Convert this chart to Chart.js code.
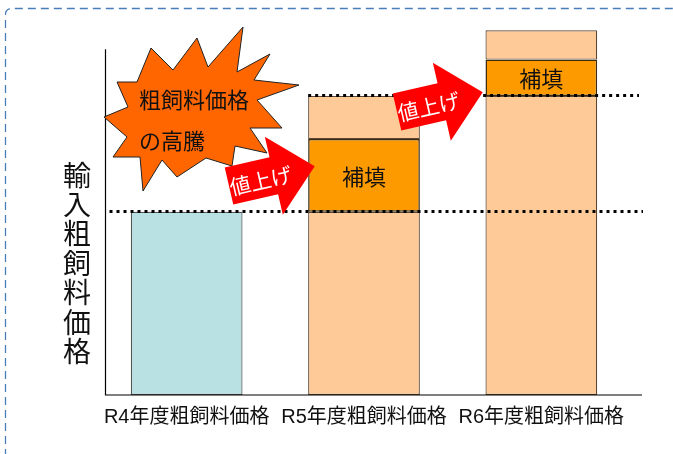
<!DOCTYPE html>
<html>
<head>
<meta charset="utf-8">
<script src="https://cdn.jsdelivr.net/npm/chart.js@4.4.1/dist/chart.umd.min.js"></script>
<style>
html, body { margin: 0; padding: 0; background: #fff; }
</style>
</head>
<body>
<canvas id="chart" width="673" height="454"></canvas>
<script>
// values (arbitrary price units, 100 = top of the axis line)
var categories = ["R4年度粗飼料価格", "R5年度粗飼料価格", "R6年度粗飼料価格"];
var basePrice = [53, 53, 86.5];
var subsidy = [null, 21, 10.5];
var topPart = [null, 12.5, 8.5];
var axisTop = 100;

var yTitle = "輸入粗飼料価格";
var burstLines = ["粗飼料価格", "の高騰"];
var arrowLabel = "値上げ";
var subsidyLabel = "補填";

var JP = "'Noto Sans CJK JP', sans-serif";

// starburst outline, pixels
var burst = [[243,27],[237,72],[270,54],[254,80],[299,85],[257,100],[282,128],[250,128],[267,153],
    [235,146],[232,166],[206,158],[177,177],[162,160],[143,191],[140,157],[113,157],[127,137],
    [104,117],[128,107],[117,82],[137,82],[151,48],[173,70],[197,38],[208,67]];

function drawArrow(ctx, x, y, angle, text) {
    ctx.save();
    ctx.translate(x, y);
    ctx.rotate(angle * Math.PI / 180);
    ctx.beginPath();
    ctx.moveTo(0, -19);
    ctx.lineTo(46, -19);
    ctx.lineTo(46, -40);
    ctx.lineTo(88, 0);
    ctx.lineTo(46, 40);
    ctx.lineTo(46, 19);
    ctx.lineTo(0, 19);
    ctx.closePath();
    ctx.fillStyle = "#ff0000";
    ctx.fill();
    ctx.fillStyle = "#fff";
    ctx.font = "21px " + JP;
    ctx.textAlign = "center";
    ctx.textBaseline = "middle";
    ctx.fillText(text, 32, 2);
    ctx.restore();
}

var decor = {
    id: "decor",
    beforeDraw: function(chart) {
        var ctx = chart.ctx;
        ctx.save();
        ctx.strokeStyle = "#4a7ebb";
        ctx.lineWidth = 1.3;
        ctx.setLineDash([8, 5]);
        ctx.beginPath();
        ctx.moveTo(5.5, 470);
        ctx.lineTo(5.5, 15);
        ctx.arcTo(5.5, 8.5, 12, 8.5, 6);
        ctx.lineTo(690, 8.5);
        ctx.stroke();
        ctx.restore();
    },
    afterDatasetsDraw: function(chart) {
        var ctx = chart.ctx;
        var y = chart.scales.y;
        var area = chart.chartArea;
        var bars = chart.getDatasetMeta(0).data;
        ctx.save();

        // axis lines
        var ax = area.left + 7.5;
        ctx.strokeStyle = "#000";
        ctx.lineWidth = 1.2;
        ctx.beginPath();
        ctx.moveTo(ax, y.getPixelForValue(axisTop));
        ctx.lineTo(ax, area.bottom);
        ctx.lineTo(area.right + 12, area.bottom);
        ctx.stroke();

        // dotted price levels
        ctx.lineWidth = 3;
        ctx.setLineDash([3, 4]);
        var lo = Math.round(y.getPixelForValue(basePrice[1])) - 0.5;
        ctx.beginPath();
        ctx.moveTo(ax + 4, lo);
        ctx.lineTo(area.right + 13, lo);
        ctx.stroke();
        var hi = Math.round(y.getPixelForValue(basePrice[2])) - 0.5;
        ctx.beginPath();
        ctx.moveTo(bars[1].x - bars[1].width / 2, hi);
        ctx.lineTo(area.right + 9, hi);
        ctx.stroke();
        ctx.setLineDash([]);

        // subsidy labels
        ctx.fillStyle = "#111";
        ctx.font = "22px " + JP;
        ctx.textAlign = "center";
        ctx.textBaseline = "middle";
        chart.getDatasetMeta(1).data.forEach(function(el, i) {
            if (subsidy[i] == null) return;
            ctx.fillText(subsidyLabel, el.x, (el.y + el.base) / 2 + 1);
        });

        // vertical y title
        ctx.font = "28px " + JP;
        for (var i = 0; i < yTitle.length; i++) {
            ctx.fillText(yTitle[i], 77, 175 + i * 29.4);
        }

        // starburst
        ctx.beginPath();
        burst.forEach(function(p, i) {
            if (i == 0) ctx.moveTo(p[0], p[1]); else ctx.lineTo(p[0], p[1]);
        });
        ctx.closePath();
        ctx.fillStyle = "#ff6600";
        ctx.fill();
        ctx.strokeStyle = "#222";
        ctx.lineWidth = 1;
        ctx.stroke();
        ctx.fillStyle = "#111";
        ctx.font = "22px " + JP;
        ctx.textAlign = "left";
        ctx.fillText(burstLines[0], 139, 100);
        ctx.fillText(burstLines[1], 139, 141);

        // arrows
        drawArrow(ctx, 229, 186, -13, arrowLabel);
        drawArrow(ctx, 397, 112, -13, arrowLabel);
        ctx.restore();
    }
};

new Chart(document.getElementById("chart"), {
    type: "bar",
    data: {
        labels: categories,
        datasets: [{
            data: basePrice,
            backgroundColor: ["#b9e0e3", "#fecb98", "#fecb98"],
            borderColor: ["#555", "#5a4632", "#5a4632"],
            borderWidth: 1.2,
            borderSkipped: false
        }, {
            data: subsidy,
            backgroundColor: "#fd9a00",
            borderColor: "#3d2b10",
            borderWidth: 1.5,
            borderSkipped: false
        }, {
            data: topPart,
            backgroundColor: "#fecb98",
            borderColor: "#5a4632",
            borderWidth: 1.2,
            borderSkipped: false
        }]
    },
    options: {
        responsive: false,
        animation: false,
        layout: {padding: {left: 98, right: 43, top: 25, bottom: 15}},
        datasets: {bar: {categoryPercentage: 1, barPercentage: 0.63}},
        plugins: {legend: {display: false}, tooltip: {enabled: false}},
        scales: {
            x: {
                stacked: true,
                grid: {display: false, drawTicks: false},
                border: {display: false},
                ticks: {
                    color: "#111",
                    padding: 10,
                    font: {size: 20, family: "'Liberation Sans', 'Noto Sans CJK JP', sans-serif"}
                }
            },
            y: {stacked: true, display: false, min: 0, max: 107}
        }
    },
    plugins: [decor]
});
</script>
</body>
</html>
